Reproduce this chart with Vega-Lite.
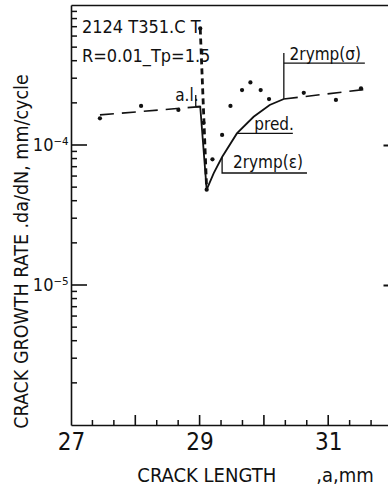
{
  "$schema": "https://vega.github.io/schema/vega-lite/v6.json",
  "width": 317,
  "height": 420,
  "autosize": {"type": "none"},
  "padding": {"left": 71, "top": 5, "right": 0, "bottom": 68},
  "background": "white",
  "config": {
    "view": {"stroke": null},
    "font": "DejaVu Sans Condensed, sans-serif",
    "axis": {"domainColor": "#111", "tickColor": "#111", "labelColor": "#111", "titleColor": "#111", "grid": false, "domainWidth": 1.6, "tickWidth": 1.6, "titleFontWeight": "normal"}
  },
  "datasets": {
    "points": [
      {"a": 27.45, "rate": 0.000155},
      {"a": 28.09, "rate": 0.00019},
      {"a": 28.67, "rate": 0.000178},
      {"a": 29.01, "rate": 0.00068},
      {"a": 29.06, "rate": 0.000144},
      {"a": 29.2, "rate": 0.000079},
      {"a": 29.11, "rate": 0.000048},
      {"a": 29.35, "rate": 0.000118},
      {"a": 29.48, "rate": 0.00019},
      {"a": 29.66, "rate": 0.000247},
      {"a": 29.79, "rate": 0.00028},
      {"a": 29.95, "rate": 0.000247},
      {"a": 30.08, "rate": 0.000213},
      {"a": 30.62, "rate": 0.000236},
      {"a": 31.12, "rate": 0.00021},
      {"a": 31.51, "rate": 0.000254}
    ],
    "lines": [
      {"series": "trend", "seg": "t1", "i": 1, "a": 27.45, "rate": 0.000164},
      {"series": "trend", "seg": "t1", "i": 2, "a": 29.01, "rate": 0.000188},
      {"series": "trend", "seg": "t2", "i": 1, "a": 30.31, "rate": 0.000213},
      {"series": "trend", "seg": "t2", "i": 2, "a": 31.59, "rate": 0.00025},
      {"series": "spike", "seg": "s", "i": 1, "a": 29.01, "rate": 0.00068},
      {"series": "spike", "seg": "s", "i": 2, "a": 29.11, "rate": 0.000048},
      {"series": "solid", "seg": "d", "i": 1, "a": 28.94, "rate": 0.000188},
      {"series": "solid", "seg": "d", "i": 2, "a": 29.01, "rate": 0.000188},
      {"series": "solid", "seg": "d", "i": 3, "a": 29.11, "rate": 0.000048},
      {"series": "solid", "seg": "p", "i": 1, "a": 29.11, "rate": 0.000048},
      {"series": "solid", "seg": "p", "i": 2, "a": 29.22, "rate": 0.000063},
      {"series": "solid", "seg": "p", "i": 3, "a": 29.35, "rate": 0.000082},
      {"series": "solid", "seg": "p", "i": 4, "a": 29.58, "rate": 0.000121},
      {"series": "solid", "seg": "p", "i": 5, "a": 29.84, "rate": 0.000159},
      {"series": "solid", "seg": "p", "i": 6, "a": 30.09, "rate": 0.000193},
      {"series": "solid", "seg": "p", "i": 7, "a": 30.31, "rate": 0.000213},
      {"series": "thin", "seg": "b1", "i": 1, "a": 30.31, "rate": 0.000213},
      {"series": "thin", "seg": "b1", "i": 2, "a": 30.31, "rate": 0.000454},
      {"series": "thin", "seg": "u1", "i": 1, "a": 30.31, "rate": 0.000384},
      {"series": "thin", "seg": "u1", "i": 2, "a": 31.57, "rate": 0.000384},
      {"series": "thin", "seg": "u2", "i": 1, "a": 29.58, "rate": 0.000121},
      {"series": "thin", "seg": "u2", "i": 2, "a": 30.45, "rate": 0.000121},
      {"series": "thin", "seg": "b3", "i": 1, "a": 29.35, "rate": 0.000082},
      {"series": "thin", "seg": "b3", "i": 2, "a": 29.35, "rate": 0.0000631},
      {"series": "thin", "seg": "b3", "i": 3, "a": 30.67, "rate": 0.0000631},
      {"series": "thin", "seg": "al", "i": 1, "a": 28.94, "rate": 0.000228},
      {"series": "thin", "seg": "al", "i": 2, "a": 28.94, "rate": 0.000188}
    ],
    "notes": [
      {"kind": "big", "label": "2124 T351.C T", "a": 27.17, "rate": 0.000631},
      {"kind": "big", "label": "R=0.01_Tp=1.5", "a": 27.17, "rate": 0.000392},
      {"kind": "small", "label": "a.l.", "a": 28.62, "rate": 0.000206},
      {"kind": "small", "label": "2rymp(σ)", "a": 30.4, "rate": 0.000405},
      {"kind": "small", "label": "pred.", "a": 29.85, "rate": 0.000128},
      {"kind": "small", "label": "2rymp(ε)", "a": 29.52, "rate": 0.0000686}
    ],
    "xticks": [
      {"v": 27.3333333, "kind": "minor"}, {"v": 27.6666667, "kind": "minor"}, {"v": 28, "kind": "major"},
      {"v": 28.3333333, "kind": "minor"}, {"v": 28.6666667, "kind": "minor"}, {"v": 29, "kind": "major"},
      {"v": 29.3333333, "kind": "minor"}, {"v": 29.6666667, "kind": "minor"}, {"v": 30, "kind": "major"},
      {"v": 30.3333333, "kind": "minor"}, {"v": 30.6666667, "kind": "minor"}, {"v": 31, "kind": "major"},
      {"v": 31.3333333, "kind": "minor"}, {"v": 31.6666667, "kind": "minor"}
    ],
    "yticks": [
      {"v": 0.000002, "kind": "minor"}, {"v": 0.000003, "kind": "minor"}, {"v": 0.000004, "kind": "minor"}, {"v": 0.000005, "kind": "minor"},
      {"v": 0.000006, "kind": "minor"}, {"v": 0.000007, "kind": "minor"}, {"v": 0.000008, "kind": "minor"}, {"v": 0.000009, "kind": "minor"},
      {"v": 0.00001, "kind": "major"},
      {"v": 0.00002, "kind": "minor"}, {"v": 0.00003, "kind": "minor"}, {"v": 0.00004, "kind": "minor"}, {"v": 0.00005, "kind": "minor"},
      {"v": 0.00006, "kind": "minor"}, {"v": 0.00007, "kind": "minor"}, {"v": 0.00008, "kind": "minor"}, {"v": 0.00009, "kind": "minor"},
      {"v": 0.0001, "kind": "major"},
      {"v": 0.0002, "kind": "minor"}, {"v": 0.0003, "kind": "minor"}, {"v": 0.0004, "kind": "minor"}, {"v": 0.0005, "kind": "minor"},
      {"v": 0.0006, "kind": "minor"}, {"v": 0.0007, "kind": "minor"}, {"v": 0.0008, "kind": "minor"}, {"v": 0.0009, "kind": "minor"}
    ]
  },
  "resolve": {"axis": {"x": "independent", "y": "independent"}},
  "layer": [
    {
      "data": {"name": "points"},
      "mark": {"type": "circle", "size": 18, "color": "#111", "opacity": 1},
      "encoding": {
        "x": {
          "field": "a", "type": "quantitative",
          "scale": {"domain": [27, 31.93], "nice": false, "zero": false},
          "axis": {
            "orient": "bottom",
            "title": "CRACK LENGTH\u00a0\u00a0\u00a0\u00a0\u00a0\u00a0\u00a0,a,mm",
            "titleFontSize": 20,
            "titleX": 184,
            "titleY": 50,
            "titleAnchor": null,
            "titleAlign": "center",
            "titleBaseline": "middle",
            "values": [27, 29, 31],
            "ticks": false,
            "labelFontSize": 24,
            "labelPadding": 5,
            "labelFlush": false,
            "labelOverlap": false
          }
        },
        "y": {
          "field": "rate", "type": "quantitative",
          "scale": {"type": "log", "domain": [0.000001, 0.001], "nice": false},
          "axis": {
            "orient": "left",
            "title": "CRACK GROWTH RATE .da/dN, mm/cycle",
            "titleFontSize": 19.5,
            "titleX": -50,
            "titleY": 246,
            "titleAngle": -90,
            "titleAlign": "center",
            "titleBaseline": "middle",
            "values": [0.00001, 0.0001],
            "ticks": false,
            "labelExpr": "datum.value == 0.0001 ? '10⁻⁴' : '10⁻⁵'",
            "labelFontSize": 18,
            "labelPadding": 3,
            "labelOverlap": false,
            "labelFlush": false
          }
        }
      }
    },
    {
      "data": {"name": "lines"},
      "transform": [{"filter": "datum.series == 'trend'"}],
      "mark": {"type": "line", "color": "#111", "strokeWidth": 1.6, "strokeDash": [14, 8]},
      "encoding": {
        "x": {
          "field": "a", "type": "quantitative",
          "scale": {"domain": [27, 31.93], "nice": false, "zero": false},
          "axis": {"orient": "top", "title": null, "ticks": false, "labels": false, "domain": true}
        },
        "y": {
          "field": "rate", "type": "quantitative",
          "scale": {"type": "log", "domain": [0.000001, 0.001], "nice": false},
          "axis": {"orient": "right", "title": null, "domain": false, "labels": false, "values": [0.00001, 0.0001], "tickSize": -5, "tickWidth": 2}
        },
        "detail": {"field": "seg"},
        "order": {"field": "i"}
      }
    },
    {
      "data": {"name": "xticks"},
      "transform": [{"filter": "datum.kind == 'major'"}],
      "mark": {"type": "tick", "orient": "vertical", "size": 10, "thickness": 1.6, "yOffset": -5, "color": "#111", "opacity": 1},
      "encoding": {
        "x": {"field": "v", "type": "quantitative", "scale": {"domain": [27, 31.93], "nice": false, "zero": false}, "axis": null},
        "y": {"datum": 0.000001, "type": "quantitative", "scale": {"type": "log", "domain": [0.000001, 0.001], "nice": false}, "axis": null}
      }
    },
    {
      "data": {"name": "xticks"},
      "transform": [{"filter": "datum.kind == 'minor'"}],
      "mark": {"type": "tick", "orient": "vertical", "size": 5, "thickness": 1.5, "yOffset": -2.5, "color": "#111", "opacity": 1},
      "encoding": {
        "x": {"field": "v", "type": "quantitative", "scale": {"domain": [27, 31.93], "nice": false, "zero": false}, "axis": null},
        "y": {"datum": 0.000001, "type": "quantitative", "scale": {"type": "log", "domain": [0.000001, 0.001], "nice": false}, "axis": null}
      }
    },
    {
      "data": {"name": "yticks"},
      "transform": [{"filter": "datum.kind == 'major'"}],
      "mark": {"type": "tick", "orient": "horizontal", "size": 16, "thickness": 1.6, "xOffset": 8, "color": "#111", "opacity": 1},
      "encoding": {
        "y": {"field": "v", "type": "quantitative", "scale": {"type": "log", "domain": [0.000001, 0.001], "nice": false}, "axis": null},
        "x": {"datum": 27, "type": "quantitative", "scale": {"domain": [27, 31.93], "nice": false, "zero": false}, "axis": null}
      }
    },
    {
      "data": {"name": "yticks"},
      "transform": [{"filter": "datum.kind == 'minor'"}],
      "mark": {"type": "tick", "orient": "horizontal", "size": 6, "thickness": 1.5, "xOffset": 3, "color": "#111", "opacity": 1},
      "encoding": {
        "y": {"field": "v", "type": "quantitative", "scale": {"type": "log", "domain": [0.000001, 0.001], "nice": false}, "axis": null},
        "x": {"datum": 27, "type": "quantitative", "scale": {"domain": [27, 31.93], "nice": false, "zero": false}, "axis": null}
      }
    },
    {
      "data": {"name": "lines"},
      "transform": [{"filter": "datum.series == 'spike'"}],
      "mark": {"type": "line", "color": "#111", "strokeWidth": 2.8, "strokeDash": [6, 4]},
      "encoding": {
        "x": {"field": "a", "type": "quantitative", "scale": {"domain": [27, 31.93], "nice": false, "zero": false}, "axis": null},
        "y": {"field": "rate", "type": "quantitative", "scale": {"type": "log", "domain": [0.000001, 0.001], "nice": false}, "axis": null},
        "detail": {"field": "seg"},
        "order": {"field": "i"}
      }
    },
    {
      "data": {"name": "lines"},
      "transform": [{"filter": "datum.series == 'solid'"}],
      "mark": {"type": "line", "color": "#111", "strokeWidth": 1.8},
      "encoding": {
        "x": {"field": "a", "type": "quantitative", "scale": {"domain": [27, 31.93], "nice": false, "zero": false}, "axis": null},
        "y": {"field": "rate", "type": "quantitative", "scale": {"type": "log", "domain": [0.000001, 0.001], "nice": false}, "axis": null},
        "detail": {"field": "seg"},
        "order": {"field": "i"}
      }
    },
    {
      "data": {"name": "lines"},
      "transform": [{"filter": "datum.series == 'thin'"}],
      "mark": {"type": "line", "color": "#111", "strokeWidth": 1.3},
      "encoding": {
        "x": {"field": "a", "type": "quantitative", "scale": {"domain": [27, 31.93], "nice": false, "zero": false}, "axis": null},
        "y": {"field": "rate", "type": "quantitative", "scale": {"type": "log", "domain": [0.000001, 0.001], "nice": false}, "axis": null},
        "detail": {"field": "seg"},
        "order": {"field": "i"}
      }
    },
    {
      "data": {"name": "notes"},
      "transform": [{"filter": "datum.kind == 'big'"}],
      "mark": {"type": "text", "align": "left", "baseline": "alphabetic", "fontSize": 18, "color": "#111"},
      "encoding": {
        "x": {"field": "a", "type": "quantitative", "scale": {"domain": [27, 31.93], "nice": false, "zero": false}, "axis": null},
        "y": {"field": "rate", "type": "quantitative", "scale": {"type": "log", "domain": [0.000001, 0.001], "nice": false}, "axis": null},
        "text": {"field": "label"}
      }
    },
    {
      "data": {"name": "notes"},
      "transform": [{"filter": "datum.kind == 'small'"}],
      "mark": {"type": "text", "align": "left", "baseline": "alphabetic", "fontSize": 17, "color": "#111"},
      "encoding": {
        "x": {"field": "a", "type": "quantitative", "scale": {"domain": [27, 31.93], "nice": false, "zero": false}, "axis": null},
        "y": {"field": "rate", "type": "quantitative", "scale": {"type": "log", "domain": [0.000001, 0.001], "nice": false}, "axis": null},
        "text": {"field": "label"}
      }
    }
  ]
}
